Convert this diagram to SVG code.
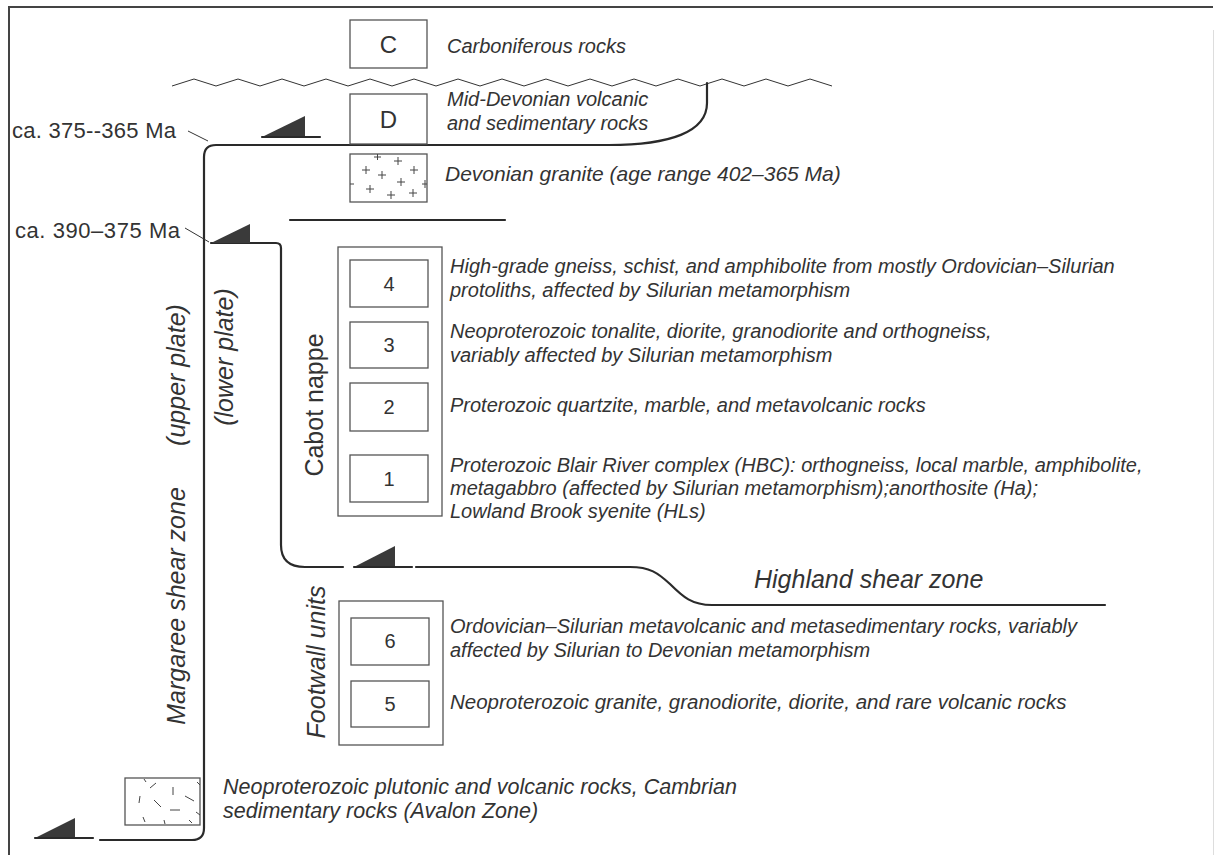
<svg xmlns="http://www.w3.org/2000/svg" width="1215" height="855" viewBox="0 0 1215 855">
<style>
  .desc { font-family: "Liberation Sans", Arial, sans-serif; font-style: italic; font-size: 20px; fill: #333; }
  .lab { font-family: "Liberation Sans", Arial, sans-serif; font-size: 20px; fill: #333; }
  .big { font-family: "Liberation Sans", Arial, sans-serif; font-size: 25px; fill: #333; }
  .bigi { font-family: "Liberation Sans", Arial, sans-serif; font-style: italic; font-size: 25px; fill: #333; }
  .num { font-family: "Liberation Sans", Arial, sans-serif; font-size: 20px; fill: #333; text-anchor: middle; }
  .box { fill: none; stroke: #555; stroke-width: 1.3; }
  .fault { fill: none; stroke: #2a2a2a; stroke-width: 2.2; stroke-linecap: round; stroke-linejoin: round; }
  .thin { fill: none; stroke: #333; stroke-width: 1; }
  .tri { fill: #3a3a3a; stroke: none; }
  .pat { fill: none; stroke: #444; stroke-width: 1; }
</style>
<rect x="0" y="0" width="1215" height="855" fill="#ffffff"/>

<!-- frame -->
<g id="frame">
  <line x1="8" y1="7" x2="1213" y2="7" stroke="#444" stroke-width="2"/>
  <line x1="9" y1="7" x2="9" y2="855" stroke="#444" stroke-width="2"/>
  <line x1="1213.5" y1="30" x2="1213.5" y2="855" stroke="#ddd" stroke-width="1"/>
</g>

<!-- connectors: faults, unconformity, leaders -->
<g id="connectors">
  <!-- unconformity (wavy) -->
  <polyline class="thin" stroke-width="1.5" points="172,86 194,79 216,86 238,79 260,86 282,79 304,86 326,79 348,86 370,79 392,86 414,79 436,86 458,79 480,86 502,79 524,86 546,79 568,86 590,79 612,86 634,79 656,86 678,79 700,86 722,79 744,86 766,79 788,86 810,79 832,86"/>
  <!-- Margaree shear zone -->
  <path class="fault" d="M100,840 L192,840 Q204,840 204,828 L204,157 Q204,145 216,145 L609,145 C670,145 707,132 707,103 L707,83"/>
  <!-- lower plate / Cabot nappe base -->
  <path class="fault" d="M211,243 L276,243 Q281,243 281,248 L281,545 Q281,567 305,567 L343,567"/>
  <!-- Highland shear zone -->
  <path class="fault" d="M416,567 L630,567 C650,567 658,573 670,584 C683,597 692,605 712,605 L1105,605"/>
  <!-- line under granite -->
  <line class="fault" x1="290" y1="220" x2="505" y2="220"/>
  <!-- thrust triangles -->
  <polygon class="tri" points="262,137 305,116 305,137"/>
  <line class="fault" x1="262" y1="137" x2="320" y2="137"/>
  <polygon class="tri" points="211,243 250,224 250,243"/>
  <polygon class="tri" points="354,567 395,546 395,567"/>
  <line class="fault" x1="354" y1="567" x2="412" y2="567"/>
  <polygon class="tri" points="35,838 75,818 75,838"/>
  <line class="fault" x1="35" y1="838" x2="93" y2="838"/>
  <!-- leaders -->
  <line class="thin" x1="188" y1="131" x2="208" y2="141"/>
  <line class="thin" x1="185" y1="228" x2="209" y2="242"/>
</g>

<g id="node-C">
  <rect class="box" x="350" y="20" width="77" height="48"/>
  <text class="lab" x="388.5" y="53" style="font-size:24px" text-anchor="middle">C</text>
  <text class="desc" x="447" y="53">Carboniferous rocks</text>
</g>

<g id="node-D">
  <rect class="box" x="350" y="94" width="77" height="50"/>
  <text class="lab" x="388.5" y="128" style="font-size:24px" text-anchor="middle">D</text>
  <text class="desc" x="447" y="106">Mid-Devonian volcanic</text>
  <text class="desc" x="447" y="130">and sedimentary rocks</text>
</g>

<g id="node-granite">
  <rect class="box" x="350" y="154" width="77" height="48"/>
  <path class="pat" d="M374,157 h7 M377.5,154 v6 M394,161 h8 M398,157 v8 M362,170 h8 M366,166 v8 M378,175 h8 M382,171 v8 M410,170 h8 M414,166 v8 M397,182 h8 M401,178 v8 M422,184 h5 M425,180 v8 M366,189 h8 M370,185 v8 M387,195 h8 M391,191 v8 M409,193 h8 M413,189 v8 M350,184 h4"/>
  <text class="desc" x="445" y="181" style="font-size:21px">Devonian granite (age range 402–365 Ma)</text>
</g>

<g id="node-cabot">
  <rect class="box" x="338" y="247" width="104" height="269"/>
  <text class="big" transform="translate(323,405) rotate(-90)" text-anchor="middle">Cabot nappe</text>
</g>

<g id="node-4">
  <rect class="box" x="350" y="260" width="78" height="47"/>
  <text class="num" x="389" y="291">4</text>
  <text class="desc" x="450" y="273">High-grade gneiss, schist, and amphibolite from mostly Ordovician–Silurian</text>
  <text class="desc" x="450" y="297">protoliths, affected by Silurian metamorphism</text>
</g>

<g id="node-3">
  <rect class="box" x="350" y="322" width="78" height="46"/>
  <text class="num" x="389" y="352">3</text>
  <text class="desc" x="450" y="338">Neoproterozoic tonalite, diorite, granodiorite and orthogneiss,</text>
  <text class="desc" x="450" y="362">variably affected by Silurian metamorphism</text>
</g>

<g id="node-2">
  <rect class="box" x="350" y="383" width="78" height="48"/>
  <text class="num" x="389" y="414">2</text>
  <text class="desc" x="450" y="412">Proterozoic quartzite, marble, and metavolcanic rocks</text>
</g>

<g id="node-1">
  <rect class="box" x="350" y="455" width="78" height="47"/>
  <text class="num" x="389" y="486">1</text>
  <text class="desc" x="450" y="472">Proterozoic Blair River complex (HBC): orthogneiss, local marble, amphibolite,</text>
  <text class="desc" x="450" y="495">metagabbro (affected by Silurian metamorphism);anorthosite (Ha);</text>
  <text class="desc" x="450" y="518">Lowland Brook syenite (HLs)</text>
</g>

<g id="node-footwall">
  <rect class="box" x="339" y="601" width="104" height="144"/>
  <text class="bigi" transform="translate(325,662) rotate(-90)" text-anchor="middle">Footwall units</text>
</g>

<g id="node-6">
  <rect class="box" x="351" y="618" width="78" height="47"/>
  <text class="num" x="390" y="648">6</text>
  <text class="desc" x="450" y="633">Ordovician–Silurian metavolcanic and metasedimentary rocks, variably</text>
  <text class="desc" x="450" y="657">affected by Silurian to Devonian metamorphism</text>
</g>

<g id="node-5">
  <rect class="box" x="351" y="681" width="78" height="46"/>
  <text class="num" x="390" y="711">5</text>
  <text class="desc" x="450" y="709" style="font-size:20.5px">Neoproterozoic granite, granodiorite, diorite, and rare volcanic rocks</text>
</g>

<g id="node-avalon">
  <rect class="box" x="125" y="778" width="75" height="47"/>
  <path class="pat" d="M144,779 L146,782 M150,788 L156,783 M140,796 L139,803 M173,787 L173,795 M185,796 L194,801 M154,800 L161,807 M170,810 L180,810 M143,817 L145,822 M164,820 L165,824 M189,820 L192,823 M196,812 L200,815 M197,782 L200,785"/>
  <text class="desc" x="223" y="794" style="font-size:21.5px">Neoproterozoic plutonic and volcanic rocks, Cambrian</text>
  <text class="desc" x="223" y="818" style="font-size:21.5px">sedimentary rocks (Avalon Zone)</text>
</g>

<g id="labels">
  <text class="lab" x="12" y="138" style="font-size:22px" textLength="164" lengthAdjust="spacing">ca. 375--365 Ma</text>
  <text class="lab" x="15" y="238" style="font-size:22px" textLength="165" lengthAdjust="spacing">ca. 390–375 Ma</text>
  <text class="bigi" transform="translate(185,375) rotate(-90)" text-anchor="middle">(upper plate)</text>
  <text class="bigi" transform="translate(185,606) rotate(-90)" text-anchor="middle">Margaree shear zone</text>
  <text class="bigi" transform="translate(233,357) rotate(-90)" text-anchor="middle">(lower plate)</text>
  <text class="bigi" x="754" y="588">Highland shear zone</text>
</g>
</svg>
